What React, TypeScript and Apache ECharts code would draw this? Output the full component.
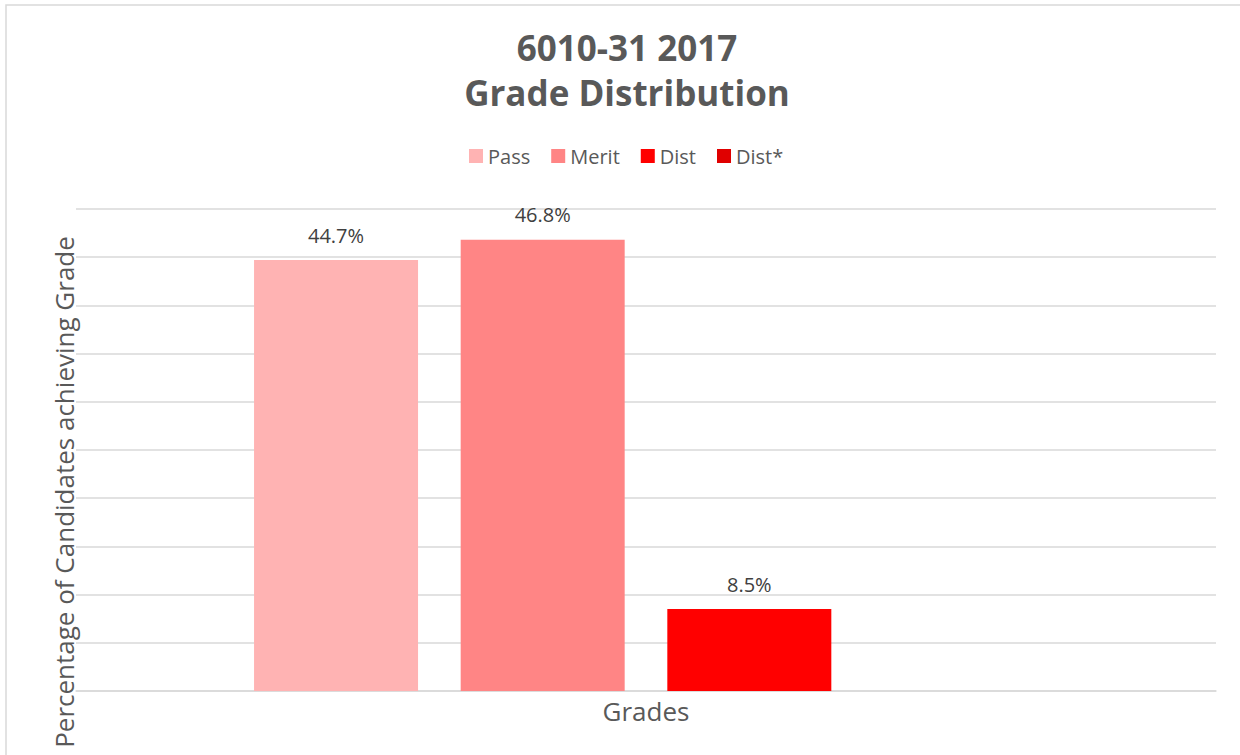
import React, { useEffect, useRef } from "react";
import * as echarts from "echarts";

const categories = [""];
const seriesNames = ["Pass", "Merit", "Dist", "Dist*"];
const seriesValues = [[44.7], [46.8], [8.5], [0]];
const seriesColors = ["#FFB3B3", "#FF8585", "#FF0000", "#E00000"];
const titleLines = ["6010-31 2017", "Grade Distribution"];
const yAxisTitle = "Percentage of Candidates achieving Grade";
const xAxisTitle = "Grades";

const FONT = "'Open Sans', Lato, sans-serif";

export default function App() {
  const ref = useRef<HTMLDivElement>(null);
  useEffect(() => {
    if (!ref.current) return;
    const chart = echarts.init(ref.current, null, { renderer: "svg" });
    chart.setOption({
      animation: false,
      backgroundColor: "#FFFFFF",
      textStyle: { fontFamily: FONT },
      graphic: [
        {
          type: "rect",
          shape: { x: 6, y: 5, width: 1260, height: 800 },
          style: { fill: "none", stroke: "#D9D9D9", lineWidth: 1.5 },
          silent: true,
        },
        {
          type: "text",
          x: 627,
          y: 47,
          style: {
            text: titleLines[0],
            fill: "#595959",
            font: `bold 35px ${FONT}`,
            textAlign: "center",
            textVerticalAlign: "middle",
          },
        },
        {
          type: "text",
          x: 627,
          y: 92,
          style: {
            text: titleLines[1],
            fill: "#595959",
            font: `bold 35px ${FONT}`,
            textAlign: "center",
            textVerticalAlign: "middle",
          },
        },
        {
          type: "text",
          x: 64,
          y: 492,
          rotation: Math.PI / 2,
          style: {
            text: yAxisTitle,
            fill: "#595959",
            font: `26px ${FONT}`,
            textAlign: "center",
            textVerticalAlign: "middle",
          },
        },
      ],
      legend: {
        left: 469,
        top: 146,
        padding: 0,
        itemWidth: 14,
        itemHeight: 14,
        itemGap: 21,
        icon: "rect",
        textStyle: { fontSize: 20, color: "#595959", fontFamily: FONT },
        data: seriesNames,
      },
      grid: { left: 76, right: 24, top: 209, bottom: 64, containLabel: false },
      xAxis: {
        type: "category",
        data: categories,
        name: xAxisTitle,
        nameLocation: "middle",
        nameGap: 7,
        nameTextStyle: {
          fontSize: 26,
          color: "#595959",
          fontFamily: FONT,
          verticalAlign: "top",
        },
        axisLine: { show: true, lineStyle: { color: "#D9D9D9", width: 1.5 } },
        axisTick: { show: false },
        axisLabel: { show: false },
      },
      yAxis: {
        type: "value",
        min: 0,
        max: 50,
        interval: 5,
        axisLabel: { show: false },
        axisLine: { show: false },
        axisTick: { show: false },
        splitLine: { lineStyle: { color: "#D9D9D9", width: 1.5 } },
      },
      series: seriesNames.map((name, i) => ({
        name,
        type: "bar",
        data: seriesValues[i],
        barWidth: 164,
        barGap: "26%",
        itemStyle: { color: seriesColors[i] },
        label: {
          show: true,
          position: "top",
          distance: 15,
          fontSize: 20,
          color: "#404040",
          fontFamily: FONT,
          formatter: (p: any) => (p.value ? `${Number(p.value).toFixed(1)}%` : ""),
        },
      })),
    });
    return () => chart.dispose();
  }, []);
  return (
    <div
      ref={ref}
      style={{ position: "fixed", left: 0, top: 0, width: 1240, height: 755 }}
    />
  );
}
